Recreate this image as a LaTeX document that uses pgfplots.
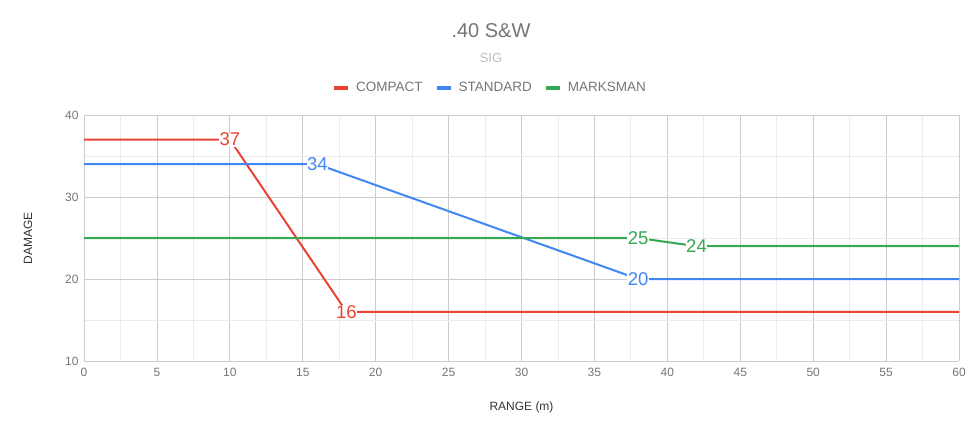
\documentclass[border=0pt]{standalone}
\usepackage{pgfplots}
\pgfplotsset{compat=1.18}
\usepackage{fontspec}
\setmainfont{Liberation Sans}
\definecolor{cred}{HTML}{EA4335}
\definecolor{cblue}{HTML}{4285F4}
\definecolor{cgreen}{HTML}{34A853}
\definecolor{tgray}{HTML}{757575}
\definecolor{lgray}{HTML}{BDBDBD}
\begin{document}
\begin{tikzpicture}[x=1pt,y=1pt]
\path (0,0) rectangle (979,434);
\node[text=tgray, font=\fontsize{20}{22}\selectfont] at (491,403) {.40 S\&W};
\node[text=lgray, font=\fontsize{13}{15}\selectfont] at (491,376) {SIG};
\begin{axis}[
  at={(84pt,73pt)}, anchor=south west,
  scale only axis, width=875pt, height=246pt,
  xmin=0, xmax=60, ymin=10, ymax=40,
  xtick={0,5,...,60}, ytick={10,20,30,40},
  minor x tick num=1, minor y tick num=1,
  grid=both,
  major grid style={color=black!20, line width=0.8pt},
  minor grid style={color=black!8, line width=0.8pt},
  major tick length=0pt, minor tick length=0pt,
  axis line style={draw=none},
  /pgf/number format/assume math mode=true,
  tick label style={text=tgray, font=\fontsize{12}{14}\selectfont},
  xticklabel style={yshift=-4pt},
  yticklabel style={xshift=-2pt},
  extra x ticks={0}, extra x tick labels={},
  extra x tick style={grid style={color=black!75, line width=1.2pt}},
  xlabel={RANGE (m)}, ylabel={DAMAGE},
  label style={text=black!80, font=\fontsize{12}{14}\selectfont},
  xlabel style={at={(axis description cs:0.5,-0.19)}, anchor=center},
  ylabel style={at={(axis description cs:-0.064,0.5)}, anchor=center},
  legend columns=3,
  legend style={at={(0.464,1.11)}, anchor=center, draw=none, fill=none,
    font=\fontsize{13.5}{15}\selectfont, text=tgray,
    /tikz/every odd column/.append style={column sep=4pt},
    /tikz/every even column/.append style={column sep=10pt}},
  legend image code/.code={\draw[line width=4pt] (0pt,0pt) -- (14pt,0pt);},
  nodes near coords style={font=\fontsize{18.5}{20}\selectfont, anchor=center, fill=white, inner sep=0.5pt},
]
\addplot[cred, line width=2pt, mark=none] coordinates {(0,37) (10,37) (18,16) (60,16)};
\addlegendentry{COMPACT}
\addplot[cblue, line width=2pt, mark=none] coordinates {(0,34) (16,34) (38,20) (60,20)};
\addlegendentry{STANDARD}
\addplot[cgreen, line width=2pt, mark=none] coordinates {(0,25) (38,25) (42,24) (60,24)};
\addlegendentry{MARKSMAN}
\addplot[draw=none, forget plot, nodes near coords, point meta=explicit symbolic, nodes near coords style={text=cred}] coordinates {(10,37) [37] (18,16) [16]};
\addplot[draw=none, forget plot, nodes near coords, point meta=explicit symbolic, nodes near coords style={text=cblue}] coordinates {(16,34) [34] (38,20) [20]};
\addplot[draw=none, forget plot, nodes near coords, point meta=explicit symbolic, nodes near coords style={text=cgreen}] coordinates {(38,25) [25] (42,24) [24]};
\end{axis}
\end{tikzpicture}
\end{document}
